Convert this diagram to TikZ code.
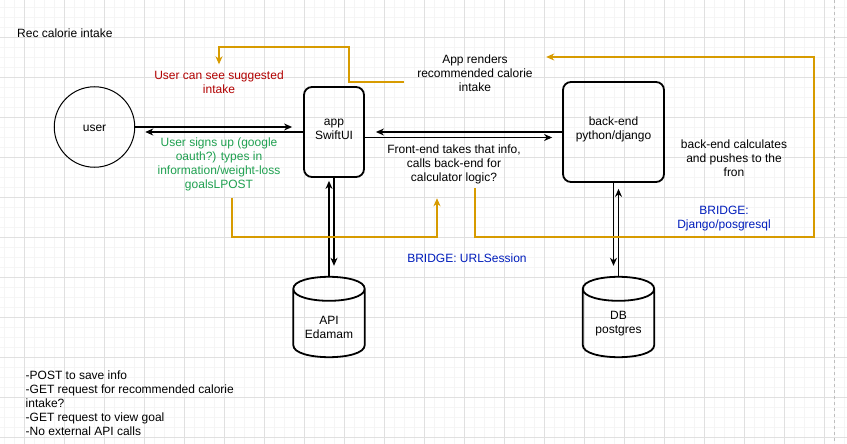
\documentclass[tikz,border=0pt]{standalone}
\usepackage{fontspec}
\setmainfont{Liberation Sans}
\usetikzlibrary{arrows.meta,calc}
\definecolor{gridminor}{RGB}{245,245,245}
\definecolor{gridmajor}{RGB}{224,224,224}
\definecolor{pageline}{RGB}{190,190,190}
\definecolor{orangeline}{HTML}{D79B00}
\definecolor{redtext}{HTML}{B20000}
\definecolor{greentext}{RGB}{31,160,80}
\definecolor{bluetext}{HTML}{001DBC}
\newcommand\dfont{\fontsize{12}{14}\selectfont\lineskiplimit=-100pt\relax}
\newcommand\Sx{\rule[-2.4pt]{0pt}{13.4pt}}
\newcommand\cylout[1]{%
\draw[cylline] ($(#1.north west)+(0,12)$) .. controls ($(#1.north west)+(0,-4)$) and ($(#1.north east)+(0,-4)$) .. ($(#1.north east)+(0,12)$) .. controls ($(#1.north east)+(0,28)$) and ($(#1.north west)+(0,28)$) .. ($(#1.north west)+(0,12)$) -- ($(#1.south west)+(0,-12)$) .. controls ($(#1.south west)+(0,4)$) and ($(#1.south east)+(0,4)$) .. ($(#1.south east)+(0,-12)$) -- ($(#1.north east)+(0,12)$);}
\tikzset{
  txt/.style={font=\dfont, align=center, inner sep=0pt},
  rbox/.style={draw, line width=1.8pt, rounded corners=8pt, font=\dfont, align=center, inner sep=0pt},
  cylbox/.style={font=\dfont, align=center, inner sep=0pt, minimum width=71pt, minimum height=80pt},
  cylline/.style={line width=1.8pt, line join=round},
  arr/.style={line width=1.1pt, -{Stealth[length=8pt,width=7pt,inset=2.5pt]}},
  oarr/.style={line width=1.15pt, draw=orangeline, -{Stealth[length=8pt,width=7pt,inset=2.5pt,fill=orangeline]}},
}
\begin{document}
\begin{tikzpicture}[x=1pt,y=-1pt]
\useasboundingbox (0,0) rectangle (847,444);
\fill[white] (0,0) rectangle (847,444);
% grid
\foreach \i in {0,...,84} \draw[gridminor, line width=0.8pt] (4.3+10*\i,0) -- (4.3+10*\i,444);
\foreach \i in {0,...,43} \draw[gridminor, line width=0.8pt] (0,7.3+10*\i) -- (847,7.3+10*\i);
\foreach \i in {0,...,20} \draw[gridmajor, line width=0.8pt] (24.3+40*\i,0) -- (24.3+40*\i,444);
\foreach \i in {0,...,10} \draw[gridmajor, line width=0.8pt] (0,37.3+40*\i) -- (847,37.3+40*\i);
\draw[pageline, line width=0.8pt, dash pattern=on 3pt off 3pt] (834.3,0) -- (834.3,444);

% nodes
\node[txt, anchor=west] (title) at (17,33) {\Sx Rec calorie intake};
\node[draw, circle, line width=1pt, minimum size=80.5pt, font=\dfont, inner sep=0pt] (user) at (94.5,127) {\Sx user};
\node[rbox, minimum width=60pt, minimum height=90pt] (app) at (334,132) {\Sx app\\\Sx SwiftUI\rule[-10.4pt]{0pt}{21.4pt}};
\node[rbox, minimum width=101pt, minimum height=100pt] (backend) at (613.5,132) {\Sx back-end\\\Sx python/django\rule[-10.4pt]{0pt}{21.4pt}};
\node[cylbox] (api) at (329,317) {\rule[-2.4pt]{0pt}{33.4pt}API\\\Sx Edamam};
\node[cylbox] (db) at (618.5,317) {\rule[-2.4pt]{0pt}{23.4pt}DB\\\Sx postgres};
\cylout{api}
\cylout{db}

\node[txt, text=redtext] (usee) at (219,82.5) {\Sx User can see suggested\\\Sx intake};
\node[txt, text=greentext] (usu) at (219,162.8) {\Sx User signs up (google\\\Sx oauth?) types in\\\Sx information/weight-loss\\\Sx goalsLPOST};
\node[txt, minimum width=142pt] (appr) at (475,73) {\Sx App renders\\\Sx recommended calorie\\\Sx intake};
\node[txt] (fe) at (454,163) {\Sx Front-end takes that info,\\\Sx calls back-end for\\\Sx calculator logic?};
\node[txt] (bec) at (734,158) {\Sx back-end calculates\\\Sx and pushes to the\\\Sx fron};
\node[txt, text=bluetext] (bdj) at (724,217.5) {\Sx BRIDGE:\\\Sx Django/posgresql};
\node[txt, text=bluetext] (burl) at (467,258) {\Sx BRIDGE: URLSession};
\node[txt, align=left, anchor=north west] (notes) at (25.5,368.3) {\Sx -POST to save info\\\Sx -GET request for recommended calorie\\\Sx intake?\\\Sx -GET request to view goal\\\Sx -No external API calls};

% black connectors
\draw[arr, shorten >=11pt] (user.east) -- (app.west |- user.east);
\draw[arr, shorten >=10pt] (app.west) -- (user.east |- app.west);
\draw[arr, shorten >=11pt] (backend.west) -- (app.east);
\draw[arr, shorten >=10pt] ($(app.east)+(0,5.5)$) -- ($(backend.west)+(0,5.5)$);
\draw[arr, shorten >=11pt] (app.south) -- (app.south |- api.north);
\draw[arr, shorten >=3pt] (api.north) -- (api.north |- app.south);
\draw[arr, shorten >=11pt] (backend.south) -- (backend.south |- db.north);
\draw[arr, shorten >=6pt] (db.north) -- (db.north |- backend.south);

% orange connectors
\coordinate (o1) at (349,47);
\coordinate (o2) at (814,237);
\coordinate (o3) at (437,237);
\draw[oarr] ($(appr.west)+(0,9)$) -| (o1) -| ($(usee.north)+(0,-4.3)$);
\draw[oarr] ($(fe.south)+(21,4.3)$) |- (o2) |- ($(appr.east)+(0,-16)$);
\draw[oarr] ($(usu.south)+(13,6.8)$) |- (o3) -- ($(fe.south)+(-17,14.3)$);
\end{tikzpicture}
\end{document}
